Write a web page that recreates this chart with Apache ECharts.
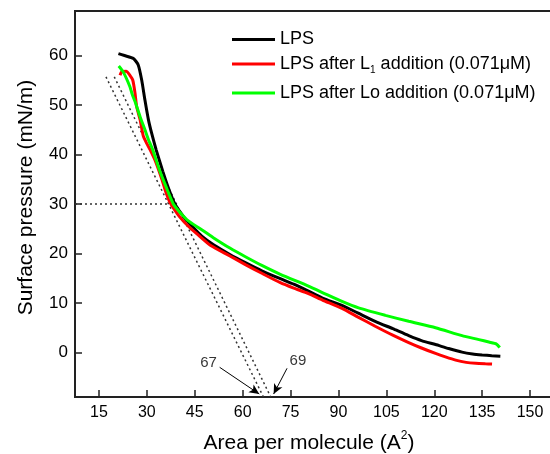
<!DOCTYPE html>
<html><head><meta charset="utf-8">
<script src="https://cdn.jsdelivr.net/npm/echarts@6/dist/echarts.min.js"></script>
<style>html,body{margin:0;padding:0;background:#fff}#c{width:550px;height:454px}</style>
</head><body><div id="c"></div>
<script>
const xTicks = [15, 30, 45, 60, 75, 90, 105, 120, 135, 150];
const yTicks = [0, 10, 20, 30, 40, 50, 60];
const seriesNames = ['LPS', 'LPS after L1 addition (0.071μM)', 'LPS after Lo addition (0.071μM)'];

const lpsData = [[21.1,60.4],[23,60.0],[25.8,59.4],[27.3,58.1],[28.4,55.0],[29.4,51.0],[30.5,47.0],[31.5,44.3],[32.9,41.0],[35,36.6],[36.9,33.0],[38.8,30.0],[42,27.0],[44,25.6],[47.2,23.5],[51,21.7],[56,19.8],[61,18.1],[66,16.5],[71.8,14.9],[76,13.8],[80.6,12.4],[85,11.0],[91.1,9.5],[96,8.0],[101.5,6.3],[107,4.8],[112,3.4],[116,2.4],[120.4,1.6],[124.5,0.8],[128.7,0.07],[132,-0.3],[135,-0.5],[138,-0.65],[140.7,-0.75]];
const l1Data = [[21.6,56.0],[22.1,56.7],[23.5,56.8],[24.7,56.0],[25.6,55.0],[26.3,52.4],[26.8,49.7],[27.9,47.0],[28.9,43.7],[30.0,42.2],[31.0,41.0],[32.6,38.8],[34.7,35.0],[36,32.3],[37.1,30.5],[38.5,29.0],[40.4,27.3],[43,25.5],[45.6,24.0],[50,21.6],[56,19.5],[61,17.7],[66,16.0],[71.8,14.1],[76,13.0],[80.6,11.9],[85,10.6],[91.1,8.9],[96,7.2],[101.5,5.3],[107,3.5],[112,2.0],[116,0.9],[120.4,-0.2],[123.5,-0.9],[126.7,-1.55],[130,-2.0],[133,-2.2],[136,-2.3],[138.1,-2.35]];
const loData = [[21.2,57.9],[22.6,56.7],[24.7,53.7],[25.5,52.0],[26.3,50.7],[27.9,47.6],[29.4,45.0],[30.5,43.0],[31.8,41.0],[34.1,36.6],[36,33.5],[38.3,30.0],[40.4,28.3],[43,26.6],[46.7,25.0],[50.8,23.2],[56,21.1],[61,19.3],[66,17.6],[71.8,15.8],[80.6,13.4],[86,11.8],[91.1,10.3],[96.3,9.0],[104.7,7.5],[112,6.3],[120.4,5.0],[128.7,3.4],[134,2.6],[137.1,2.1],[139.5,1.7],[140.5,1.0]];

const tangentA = [[17.2,55.7],[66.5,-9]];
const tangentB = [[19.8,55.7],[68.8,-9]];
const refLine30 = [[7.5,30],[37.0,30]];

const annotationText = ['67', '69'];
const annotationPos = [[49.3,-2.2],[77.3,-1.6]];
const arrowFrom = [[52.8,-3.0],[73.9,-3.2]];
const arrowTo = [[65.2,-8.4],[69.7,-8.4]];

const chart = echarts.init(document.getElementById('c'));
const dotted = {type:[2,3], width:1.5, color:'#333'};
const FONT = 'Liberation Sans, Arial, sans-serif';

function legendFor(i, top, lh, fmt, rich) {
  return {
    data: [seriesNames[i]], left: 232, top: top, padding: 0,
    icon: 'rect', itemWidth: 43, itemHeight: 3, itemGap: 0,
    selectedMode: false,
    formatter: fmt,
    textStyle: {fontFamily: FONT, fontSize: 18, color: '#000', lineHeight: lh, rich: rich}
  };
}

chart.setOption({
  animation: false,
  backgroundColor: '#fff',
  grid: {left: 75, top: 11, width: 479, height: 386, outerBoundsMode: 'none', containLabel: false,
    show: true, borderColor: '#222', borderWidth: 2, backgroundColor: 'transparent'},
  legend: [
    legendFor(0, 29.5, 20),
    legendFor(1, 53, 22, function(){ return '{m|LPS after L}{s|1}{m| addition (0.071μM)}'; },
      {m:{fontFamily:FONT,fontSize:18,lineHeight:22,color:'#000'}, s:{fontFamily:FONT,fontSize:10,lineHeight:8,verticalAlign:'bottom',color:'#000'}}),
    legendFor(2, 83, 20)
  ],
  xAxis: {
    type: 'value', min: 7.5, max: 157.5,
    name: '{a|Area per molecule (A}{b|2}{a|)}',
    nameLocation: 'middle', nameGap: 33,
    nameTextStyle: {fontFamily: FONT, fontSize: 21, color: '#000', padding: [0,11,0,0],
      rich: {a:{fontFamily:FONT,fontSize:21,lineHeight:26,color:'#000'}, b:{fontFamily:FONT,fontSize:12,lineHeight:12,verticalAlign:'top',color:'#000'}}},
    axisLine: {show: true, onZero: false, lineStyle: {color: '#222', width: 2}},
    axisTick: {show: true, inside: true, length: 7, lineStyle: {color:'#222', width: 1.5}, customValues: xTicks},
    axisLabel: {fontFamily: FONT, fontSize: 16, color: '#000', margin: 8, customValues: xTicks},
    splitLine: {show: false}
  },
  yAxis: {
    type: 'value', min: -9, max: 69,
    name: 'Surface pressure (mN/m)',
    nameLocation: 'middle', nameGap: 38,
    nameTextStyle: {fontFamily: FONT, fontSize: 21, color: '#000', padding: [0,0,0,13]},
    axisLine: {show: true, onZero: false, lineStyle: {color: '#222', width: 2}},
    axisTick: {show: true, inside: true, length: 7, lineStyle: {color:'#222', width: 1.5}, customValues: yTicks},
    axisLabel: {fontFamily: FONT, fontSize: 17, color: '#000', margin: 7, customValues: yTicks},
    splitLine: {show: false}
  },
  series: [
    {type:'line', name:'tangentA', data: tangentA, symbol:'none', lineStyle: dotted, silent:true, z:1},
    {type:'line', name:'tangentB', data: tangentB, symbol:'none', lineStyle: dotted, silent:true, z:1},
    {type:'line', name:'ref30', data: refLine30, symbol:'none', lineStyle: dotted, silent:true, z:1},
    {type:'line', name: seriesNames[0], data: lpsData, symbol:'none', smooth: 0.2, lineStyle:{color:'#000', width:3}, itemStyle:{color:'#000'}, z:3},
    {type:'line', name: seriesNames[1], data: l1Data, symbol:'none', smooth: 0.2, lineStyle:{color:'#ff0000', width:3}, itemStyle:{color:'#ff0000'}, z:4},
    {type:'line', name: seriesNames[2], data: loData, symbol:'none', smooth: 0.2, lineStyle:{color:'#00ff00', width:3}, itemStyle:{color:'#00ff00'}, z:5},
    {type:'scatter', name:'annotations', symbolSize: 0, silent: true, z: 6,
      data: annotationPos.map(function(p, i){ return {value: p, label: {show: true, formatter: annotationText[i]}}; }),
      label: {show: true, position: 'inside', fontFamily: FONT, fontSize: 15, color: '#000'},
      markLine: {
        silent: true, symbol: ['none', 'arrow'], symbolSize: [7, 10],
        label: {show: false},
        lineStyle: {color: '#000', width: 1, type: 'solid'},
        data: arrowFrom.map(function(p, i){ return [{coord: p}, {coord: arrowTo[i]}]; })
      }
    }
  ]
});
</script>
</body></html>
